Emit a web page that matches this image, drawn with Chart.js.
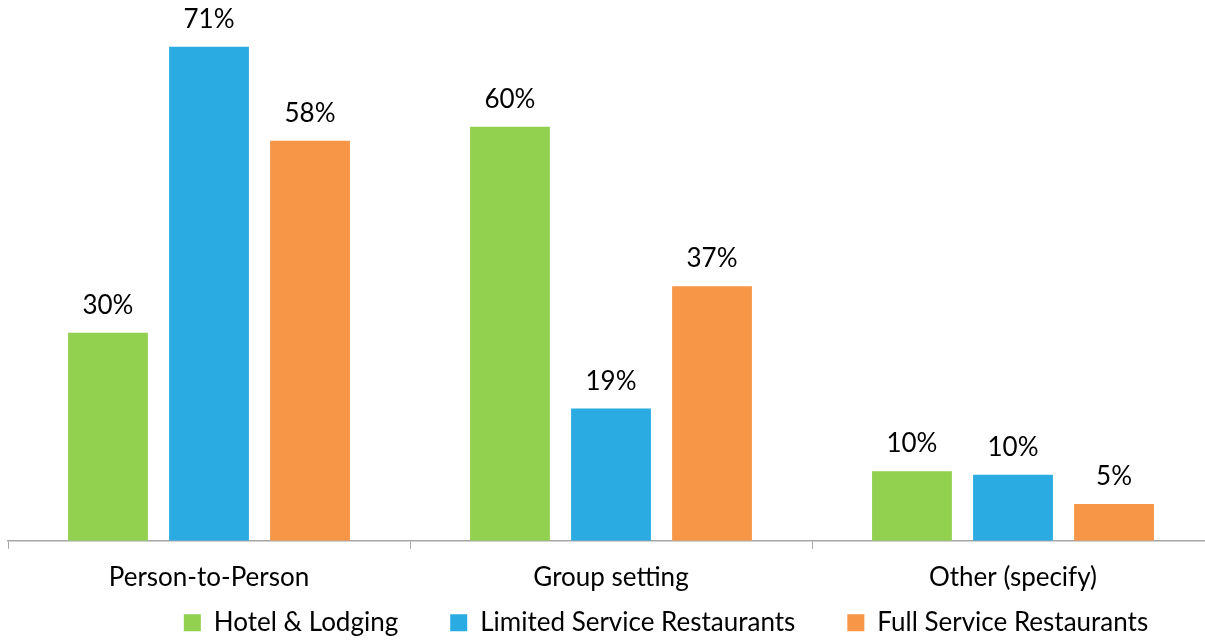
<!DOCTYPE html>
<html>
<head>
<meta charset="utf-8">
<script src="https://cdn.jsdelivr.net/npm/chart.js@4.4.0/dist/chart.umd.min.js"></script>
<style>
    html, body { margin: 0; padding: 0; overflow: hidden; background: #fff; }
    #wrap { width: 1214px; height: 642px; }
</style>
</head>
<body>
<div id="wrap"><canvas id="chart"></canvas></div>
<script>
const categories = ['Person-to-Person', 'Group setting', 'Other (specify)'];
const seriesNames = ['Hotel & Lodging', 'Limited Service Restaurants', 'Full Service Restaurants'];
const hotelValues = [29.9, 59.5, 10];
const limitedValues = [71, 19, 9.5];
const fullValues = [57.5, 36.6, 5.3];
const colors = ['#92D050', '#2AABE2', '#F79646'];

const fontFamily = 'Lato, "Open Sans", sans-serif';
const fontSize = 26;
const legendPadding = 52;

// draw the % value above every bar
const valueLabels = {
    id: 'valueLabels',
    afterDatasetsDraw(chart) {
        const ctx = chart.ctx;
        ctx.save();
        ctx.font = fontSize + 'px ' + fontFamily;
        ctx.fillStyle = '#000';
        ctx.textAlign = 'center';
        ctx.textBaseline = 'alphabetic';
        chart.data.datasets.forEach((ds, i) => {
            chart.getDatasetMeta(i).data.forEach((bar, j) => {
                ctx.fillText(Math.round(ds.data[j]) + '%', bar.x, bar.y - 19);
            });
        });
        ctx.restore();
    }
};

// legend padding is big (for the item spacing), so keep its box short
// and put it back where the original has it
const legendPlace = {
    id: 'legendPlace',
    beforeLayout(chart) {
        const lg = chart.legend;
        if (lg && !lg._patched) {
            const fit = lg.fit;
            lg.fit = function () {
                fit.call(this);
                this.height = 36;
            };
            lg._patched = true;
        }
    },
    afterLayout(chart) {
        const lg = chart.legend;
        const top = chart.chartArea.bottom + 82 - legendPadding - fontSize / 2;
        lg.top = top;
        lg.bottom = top + 120; // legend clips to its box
        lg.left += 55;
        lg.right += 55;
    }
};

const ctx = document.getElementById('chart').getContext('2d');
new Chart(ctx, {
    type: 'bar',
    data: {
        labels: categories,
        datasets: [hotelValues, limitedValues, fullValues].map((vals, i) => ({
            label: seriesNames[i],
            data: vals,
            backgroundColor: colors[i],
            borderWidth: 0,
            categoryPercentage: 0.754,
            barPercentage: 0.79
        }))
    },
    options: {
        responsive: true,
        maintainAspectRatio: false,
        animation: false,
        layout: { padding: { left: 8, top: 19, right: 0, bottom: 0 } },
        plugins: {
            legend: {
                position: 'bottom',
                labels: {
                    boxWidth: 17,
                    boxHeight: 17,
                    padding: legendPadding,
                    color: '#000',
                    font: { family: fontFamily, size: fontSize }
                }
            },
            tooltip: { enabled: false }
        },
        scales: {
            x: {
                grid: {
                    offset: true,
                    drawOnChartArea: false,
                    drawTicks: true,
                    tickLength: 8,
                    color: '#A6A6A6'
                },
                border: { color: '#A6A6A6', width: 1.5 },
                ticks: {
                    color: '#000',
                    padding: 13,
                    font: { family: fontFamily, size: fontSize }
                }
            },
            y: {
                display: false,
                min: 0,
                max: 75
            }
        }
    },
    plugins: [valueLabels, legendPlace]
});
</script>
</body>
</html>
